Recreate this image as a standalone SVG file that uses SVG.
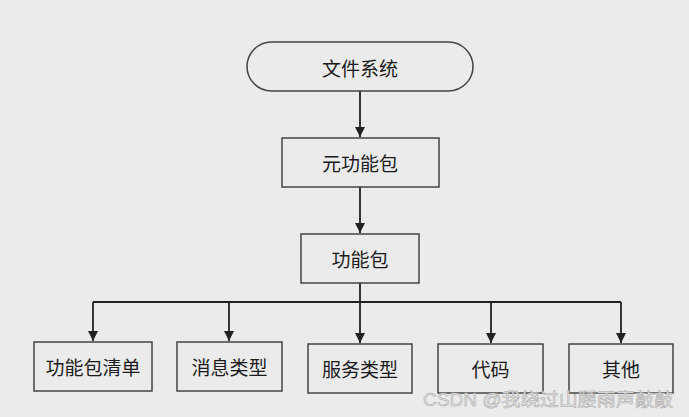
<svg xmlns="http://www.w3.org/2000/svg" width="689" height="417" viewBox="0 0 689 417">
<style>
.box{fill:none;stroke:#444;stroke-width:1.5}
.t{font-family:"Noto Sans CJK SC","Noto Sans",sans-serif;font-size:19px;fill:#1a1a1a;text-anchor:middle;dominant-baseline:central}
.c{fill:none;stroke:#222;stroke-width:1.8}
.a{marker-end:url(#ah)}
.wm{font-family:"Liberation Sans","Noto Sans CJK SC",sans-serif;font-size:18px;fill:#e4e4e4;stroke:#a8a8a8;stroke-width:0.5}
</style>
<defs>
<marker id="ah" markerWidth="10" markerHeight="10" refX="10" refY="5" orient="auto" markerUnits="userSpaceOnUse" viewBox="0 0 10 10">
<path d="M0,0 L10,5 L0,10 Z" fill="#222"/>
</marker>
</defs>
<rect width="689" height="417" fill="#ebebeb"/>
<g id="connectors">
<line class="c a" x1="360" y1="91" x2="360" y2="137"/>
<line class="c a" x1="360" y1="187" x2="360" y2="233"/>
<line class="c a" x1="360" y1="283" x2="360" y2="343"/>
<polyline class="c a" points="93,302 93,341"/>
<polyline class="c" points="93,302 621,302"/>
<line class="c a" x1="229" y1="302" x2="229" y2="341"/>
<line class="c a" x1="491" y1="302" x2="491" y2="343"/>
<line class="c a" x1="621" y1="302" x2="621" y2="343"/>
</g>
<g id="n-fs">
<rect class="box" x="247" y="42" width="226" height="49" rx="24.5"/>
<text class="t" x="360" y="67">文件系统</text>
</g>
<g id="n-meta">
<rect class="box" x="282" y="138" width="157" height="49"/>
<text class="t" x="360" y="162">元功能包</text>
</g>
<g id="n-pkg">
<rect class="box" x="301" y="234" width="118" height="49"/>
<text class="t" x="360" y="258">功能包</text>
</g>
<g id="n-manifest">
<rect class="box" x="34" y="342" width="118" height="49"/>
<text class="t" x="93" y="366">功能包清单</text>
</g>
<g id="n-msg">
<rect class="box" x="177" y="342" width="105" height="49"/>
<text class="t" x="229.5" y="366">消息类型</text>
</g>
<g id="n-srv">
<rect class="box" x="308" y="344" width="104" height="49"/>
<text class="t" x="360" y="368">服务类型</text>
</g>
<g id="n-code">
<rect class="box" x="438" y="344" width="105" height="49"/>
<text class="t" x="490.5" y="368">代码</text>
</g>
<g id="n-other">
<rect class="box" x="569" y="344" width="104" height="49"/>
<text class="t" x="621" y="368">其他</text>
</g>
<text class="wm" x="423" y="406" textLength="250" lengthAdjust="spacingAndGlyphs">CSDN @我绕过山腰雨声敲敲</text>
</svg>
